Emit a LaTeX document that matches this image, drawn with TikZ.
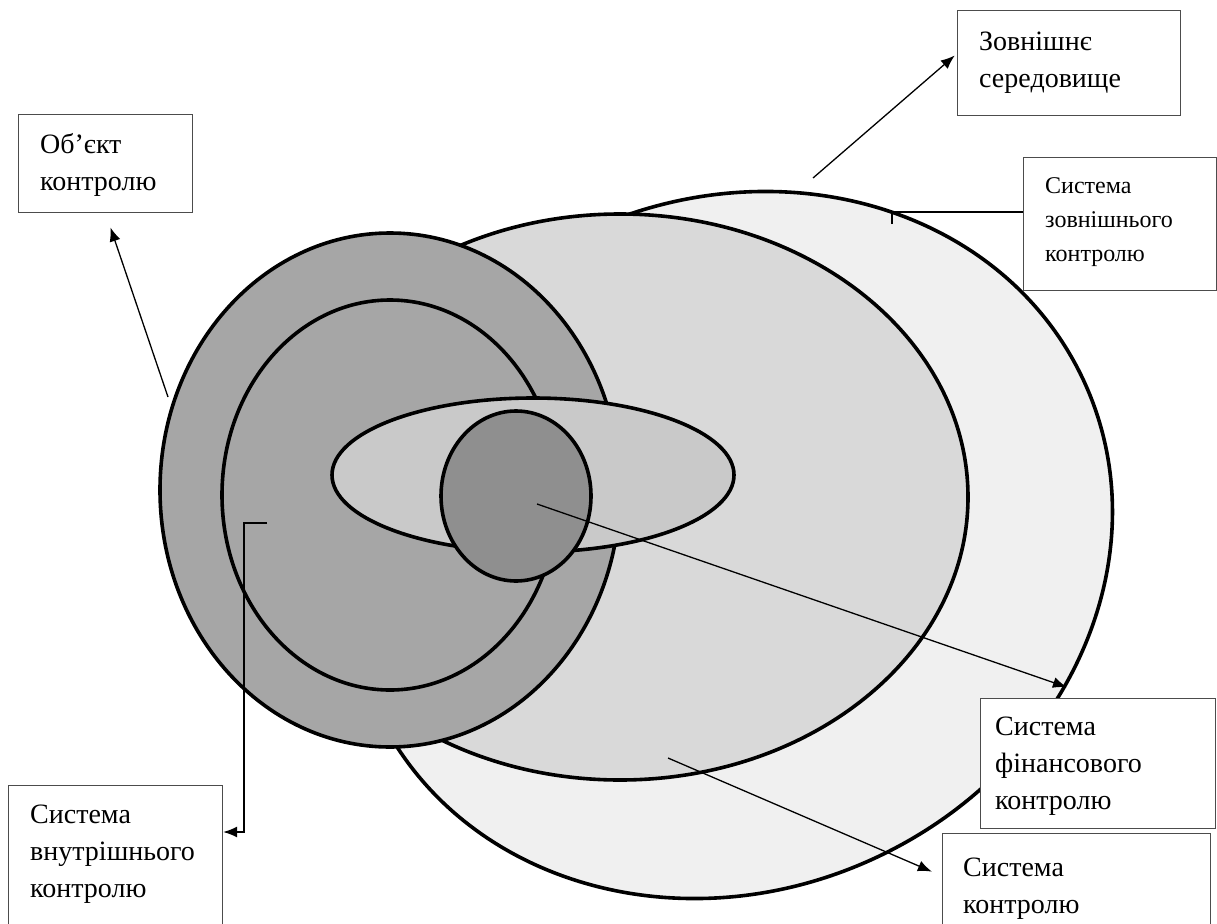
\documentclass[tikz,border=0pt]{standalone}
\usepackage{fontspec}
\setmainfont{Liberation Serif}
\usetikzlibrary{arrows.meta,calc,shapes.geometric}
\begin{document}
\begin{tikzpicture}[x=1pt,y=-1pt,
  zone/.style={draw=black, line width=3.6pt, ellipse, inner sep=0pt},
  labelbox/.style={draw=black!70, fill=white, line width=1.2pt, rectangle, inner sep=0pt, anchor=north west},
  big/.style={font=\fontsize{28}{37}\selectfont, anchor=base west, align=left, inner sep=0pt},
  small/.style={font=\fontsize{24}{34}\selectfont, anchor=base west, align=left, inner sep=0pt},
  arr/.style={line width=1.3pt, -{Latex[length=14pt,width=11pt]}},
  link/.style={line width=1.3pt}]
\useasboundingbox (0,0) rectangle (1217,923);
% zones
\node[zone, fill=black!6, minimum width=780, minimum height=690, rotate=25] (outer) at (730,545) {};
\node[zone, fill=black!15, minimum width=696, minimum height=566] (fin) at (620,497) {};
\node[zone, fill=black!35, minimum width=460, minimum height=514] (obj) at (390,490) {};
\node[zone, fill=black!35, minimum width=336, minimum height=390] (inner) at (390,495) {};
\node[zone, fill=black!21, minimum width=402, minimum height=154] (flat) at (533,475) {};
\node[zone, fill=black!44, minimum width=150, minimum height=170] (core) at (516,496) {};
% label boxes
\node[labelbox, minimum width=174, minimum height=98] (objb) at (18,114) {};
\node[big] (objt) at (40,190) {Об’єкт\\контролю};
\node[labelbox, minimum width=223, minimum height=105] (envb) at (957,10) {};
\node[big] (envt) at (979,88) {Зовнішнє\\середовище};
\node[labelbox, minimum width=193, minimum height=133] (extb) at (1023,157) {};
\node[small] (extt) at (1045,261) {Система\\зовнішнього\\контролю};
\node[labelbox, minimum width=214, minimum height=160] (intb) at (8,785) {};
\node[big] (intt) at (30,897) {Система\\внутрішнього\\контролю};
\node[labelbox, minimum width=235, minimum height=130] (finb) at (980,698) {};
\node[big] (fint) at (995,809) {Система\\фінансового\\контролю};
\node[labelbox, minimum width=268, minimum height=120] (ctlb) at (942,833) {};
\node[big] (ctlt) at (963,913) {Система\\контролю};
% connectors
\coordinate (objs) at (168,397);
\draw[arr, shorten >=15pt] (objs) -- (objb.south);
\coordinate (envs) at (813,178);
\draw[arr, shorten >=3pt] (envs) -- ($(envb.north west)!0.41!(envb.south west)$);
\coordinate (exts) at (892,224);
\draw[link] (exts) |- ($(extb.north west)!0.41!(extb.south west)$);
\coordinate (ints) at (267,523);
\draw[arr] (ints) -- ++(-23,0) |- ($(intb.north east)+(0,47)$);
\coordinate (fins) at (537,504);
\draw[arr, shorten >=33pt] (fins) -- (finb.north);
\coordinate (ctls) at (668,758);
\draw[arr, shorten >=11pt] (ctls) -- ($(ctlb.north west)+(0,43)$);
\end{tikzpicture}
\end{document}
